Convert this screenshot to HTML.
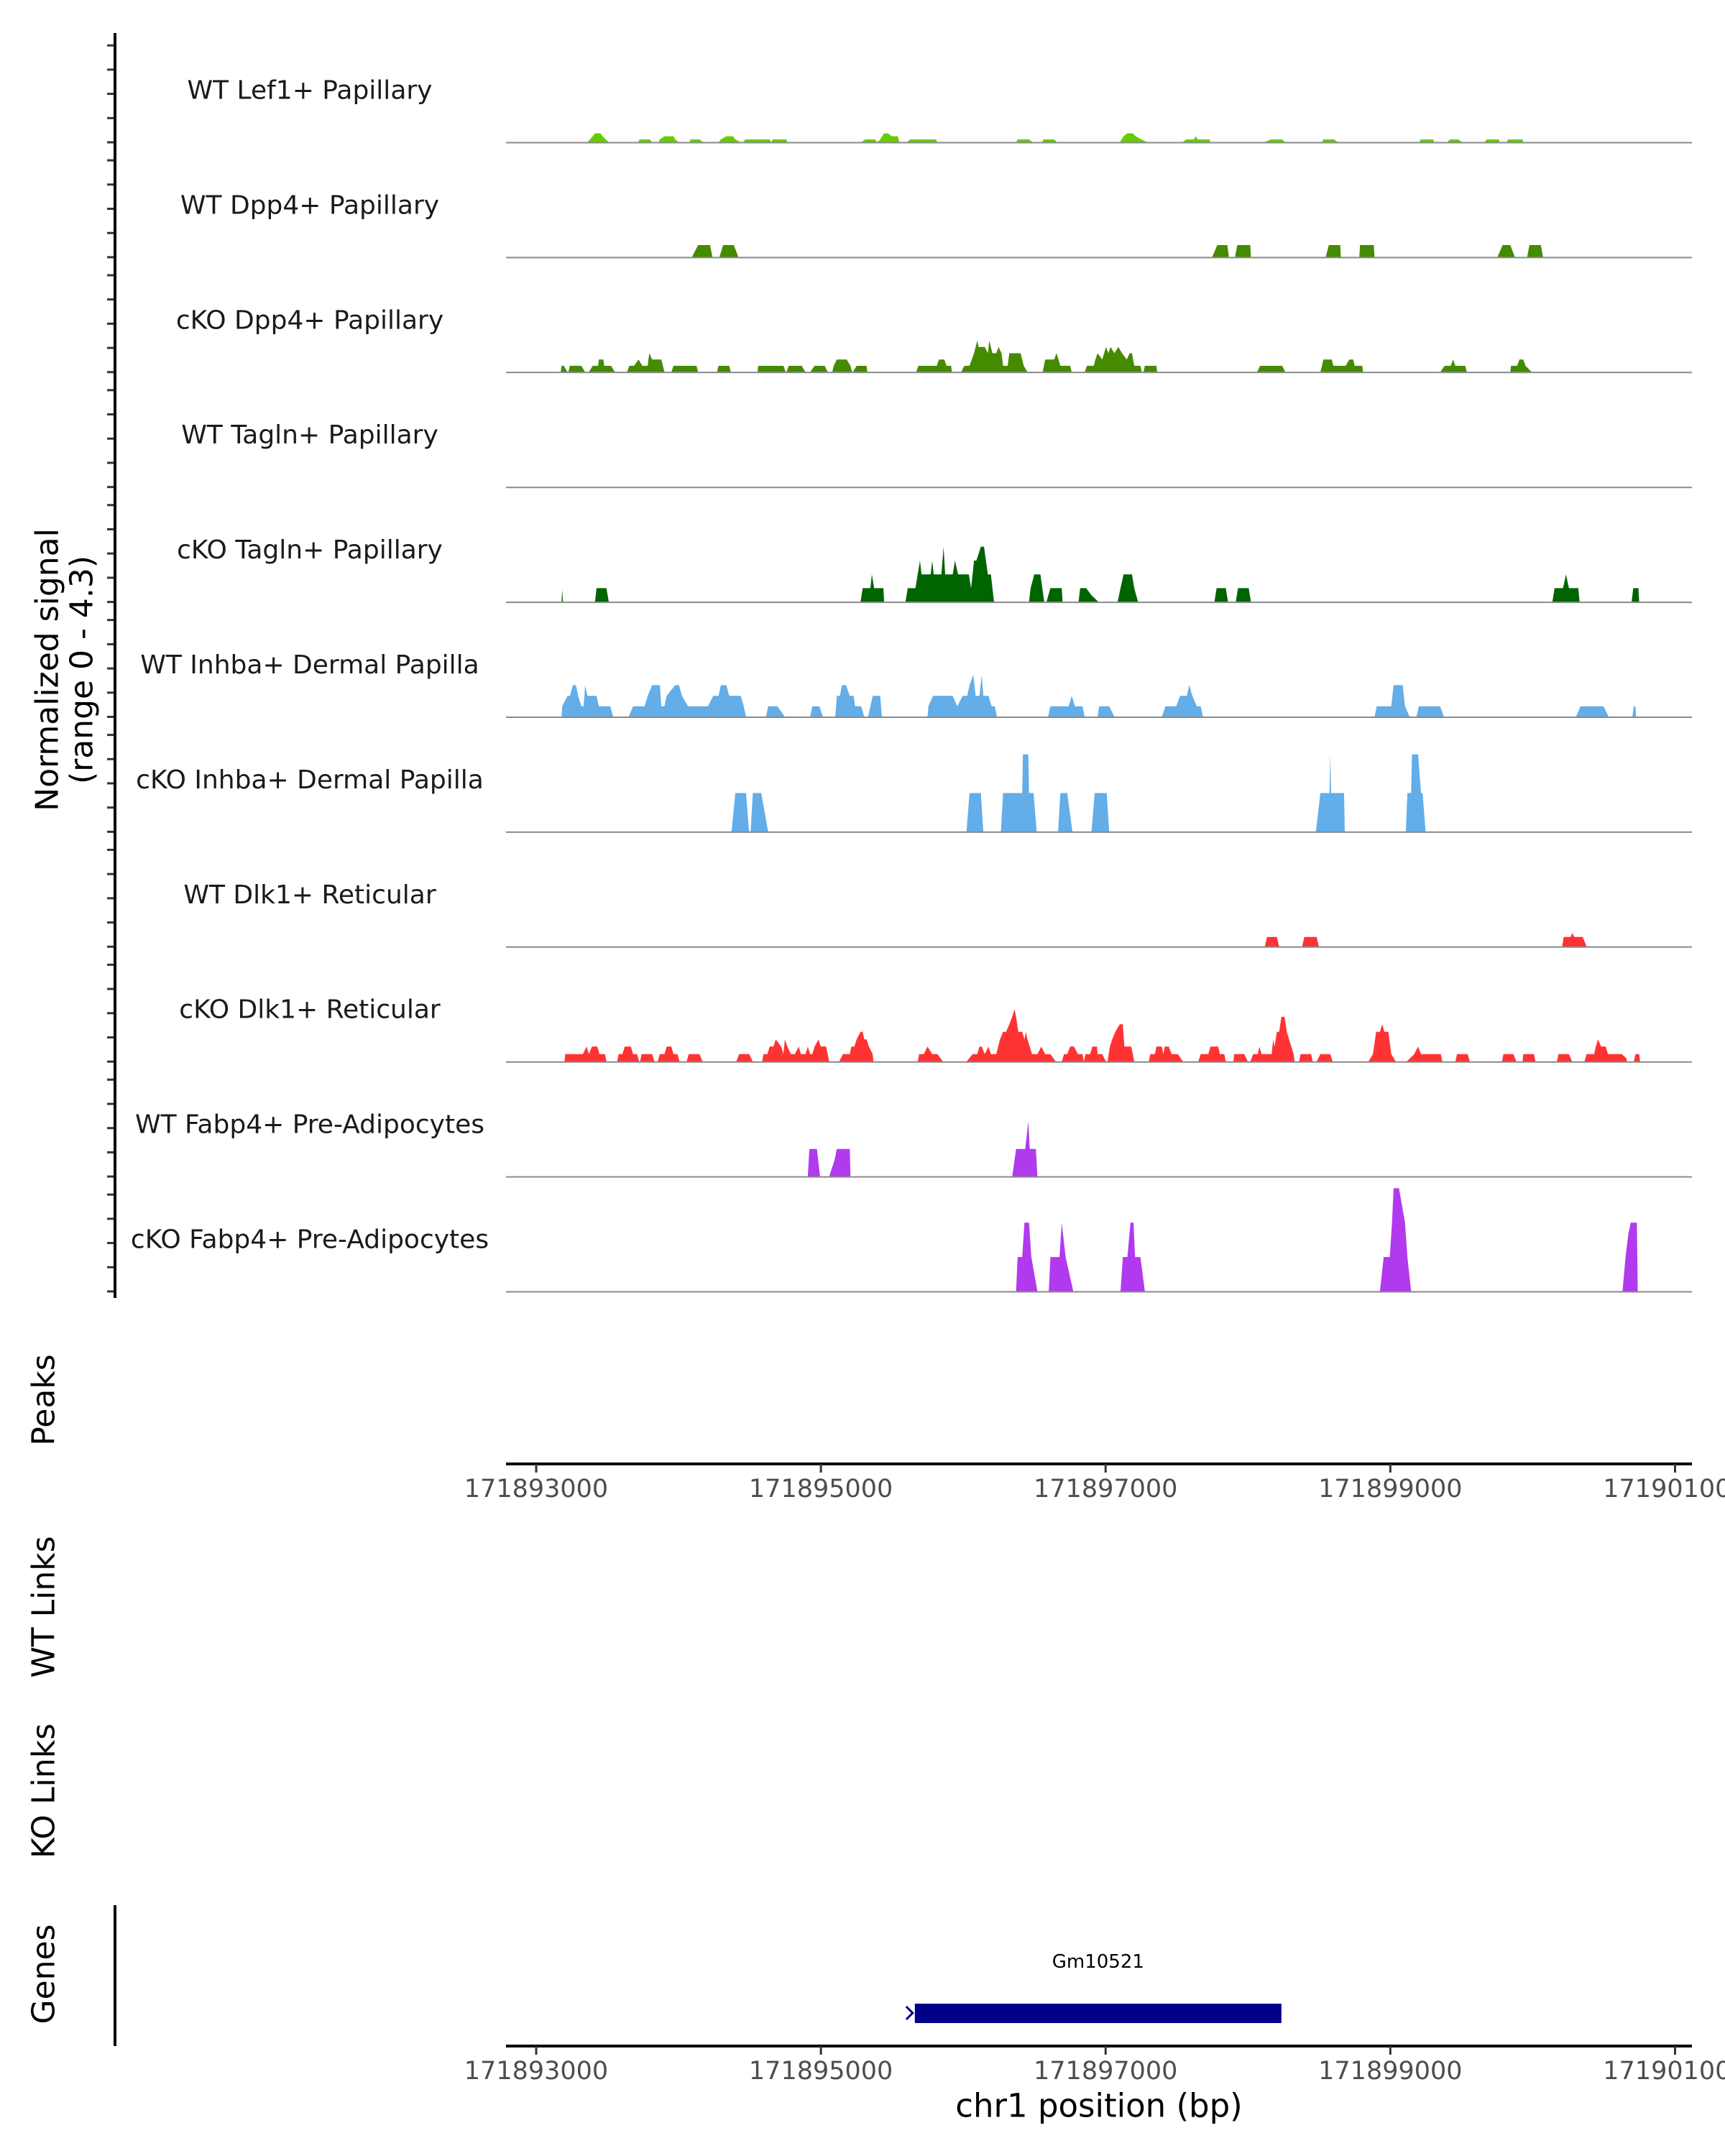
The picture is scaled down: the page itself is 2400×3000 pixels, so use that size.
<!DOCTYPE html>
<html><head><meta charset="utf-8"><style>
html,body{margin:0;padding:0;background:#fff;}
svg{display:block;font-family:"DejaVu Sans","Liberation Sans",sans-serif;}
</style></head><body>
<svg id="chart" width="2400" height="3000" viewBox="0 0 2400 3000" xmlns="http://www.w3.org/2000/svg">
<g id="tracks"></g>
<g id="axes"></g>
</svg>
<script>
// Region: genomic positions are stored as bp offsets from ORIGIN
const ORIGIN = 171890000;
const xTickValues = [171893000, 171895000, 171897000, 171899000, 171901000];
const xTickLabels = ["171893000", "171895000", "171897000", "171899000", "171901000"];
const trackNames = ["WT Lef1+ Papillary","WT Dpp4+ Papillary","cKO Dpp4+ Papillary","WT Tagln+ Papillary","cKO Tagln+ Papillary","WT Inhba+ Dermal Papilla","cKO Inhba+ Dermal Papilla","WT Dlk1+ Reticular","cKO Dlk1+ Reticular","WT Fabp4+ Pre-Adipocytes","cKO Fabp4+ Pre-Adipocytes"];
const trackColors = ["#66cc00","#458b00","#458b00","#006400","#006400","#63ade9","#63ade9","#ff3333","#ff3333","#b23aee","#b23aee"];
const yTickValues = [0,1,2,3,4];
const geneName = "Gm10521";
const geneStart = 171895660;
const geneEnd = 171898235;

const t1_pos=[3360,3397,3413,3451,3467,3510, 3713,3729,3799,3815, 3858,3869,3901,3965,3976,4003, 4078,4083,4147,4174, 4281,4297,4335,4383,4399,4437, 4453,4469,4640,4651, 4651,4662,4758,4764, 5283,5310,5380,5396, 5396,5417,5444,5471,5498,5540,5551, 5605,5626,5808,5819, 6371,6382,6462,6489, 6553,6564,6639,6660, 7100,7126,7153,7191,7212,7250,7293, 7539,7566,7619,7635,7646,7732,7733, 8112,8161,8241,8262, 8519,8530,8605,8632, 9205,9211,9302,9307, 9398,9420,9479,9505, 9661,9677,9763,9768, 9816,9827,9929,9934];
const t1_val=[0,0.25,0.37,0.37,0.25,0, 0,0.12,0.12,0, 0,0.12,0.25,0.25,0.12,0, 0,0.12,0.12,0, 0,0.12,0.25,0.25,0.12,0, 0,0.12,0.12,0, 0,0.12,0.12,0, 0,0.12,0.12,0, 0,0.12,0.37,0.37,0.25,0.25,0, 0,0.12,0.12,0, 0,0.12,0.12,0, 0,0.12,0.12,0, 0,0.25,0.37,0.37,0.25,0.12,0, 0,0.12,0.12,0.25,0.12,0.12,0, 0,0.12,0.12,0, 0,0.12,0.12,0, 0,0.12,0.12,0, 0,0.12,0.12,0, 0,0.12,0.12,0, 0,0.12,0.12,0];

const t2_pos=[4094,4137,4222,4238, 4287,4313,4388,4421, 7748,7785,7855,7866, 7909,7925,8016,8021, 8546,8568,8648,8653, 8782,8787,8884,8889, 9752,9789,9843,9875, 9961,9977,10057,10073];
const t2_val=[0,0.5,0.5,0, 0,0.5,0.5,0, 0,0.5,0.5,0, 0,0.5,0.5,0, 0,0.5,0.5,0, 0,0.5,0.5,0, 0,0.5,0.5,0, 0,0.5,0.5,0];

const t3_pos=[3172,3178,3194,3220, 3226,3237,3317,3344, 3370,3397,3435,3440,3472,3478,3526,3553, 3638,3654,3687,3719,3746,3783,3794,3815,3879,3901, 3949,3965,4126,4137, 4271,4281,4356,4367, 4555,4560,4737,4753, 4758,4774,4865,4892, 4924,4956,5026,5048, 5080,5090,5112,5181,5208,5219, 5224,5251,5321,5326, 5669,5685,5814,5830,5867,5883,5915,5921, 5985,6007,6044,6076,6098,6108,6151,6173,6183,6205,6232,6248,6269,6280,6312,6323,6403,6425,6451, 6558,6575,6639,6655,6682,6751,6762, 6853,6869,6917,6928,6944,6976,7003,7019,7035,7062,7089,7116,7148,7169,7185,7201,7244,7255, 7266,7276,7357,7362, 8064,8085,8241,8262, 8509,8530,8589,8600,8686,8712,8739,8750,8803,8809, 9350,9382,9425,9441,9457,9527,9537, 9843,9848,9891,9907,9934,9950,9993];
const t3_val=[0,0.26,0.26,0, 0,0.26,0.26,0, 0,0.26,0.26,0.52,0.52,0.26,0.26,0, 0,0.26,0.26,0.52,0.26,0.26,0.78,0.52,0.52,0, 0,0.26,0.26,0, 0,0.26,0.26,0, 0,0.26,0.26,0, 0,0.26,0.26,0, 0,0.26,0.26,0, 0,0.26,0.52,0.52,0.26,0, 0,0.26,0.26,0, 0,0.26,0.26,0.52,0.52,0.26,0.26,0, 0,0.26,0.26,0.78,1.3,1.04,1.04,0.78,1.3,0.78,0.78,1.04,0.78,0.26,0.26,0.78,0.78,0.26,0, 0,0.52,0.52,0.78,0.26,0.26,0, 0,0.26,0.26,0.52,0.78,0.52,1.04,0.78,1.04,0.78,1.04,0.78,0.52,0.78,0.78,0.26,0.26,0, 0,0.26,0.26,0, 0,0.26,0.26,0, 0,0.52,0.52,0.26,0.26,0.52,0.52,0.26,0.26,0, 0,0.26,0.26,0.52,0.26,0.26,0, 0,0.26,0.26,0.52,0.52,0.26,0];

const t4_pos=[];
const t4_val=[];

const t5_pos=[3178,3183,3188, 3413,3424,3494,3510, 5278,5294,5348,5358,5374,5439,5444, 5594,5610,5664,5696,5707,5771,5782,5792,5846,5862,5873,5926,5942,5964,6039,6055,6076,6092,6124,6146,6173,6194,6216, 6462,6473,6499,6542,6569, 6585,6612,6692,6698, 6810,6821,6864,6901,6950, 7084,7105,7126,7185,7201,7228, 7764,7780,7844,7860, 7914,7930,8005,8021, 10138,10154,10213,10234,10255,10320,10330, 10695,10706,10743,10748];
const t5_val=[0,0.5,0, 0,0.57,0.57,0, 0,0.57,0.57,1.14,0.57,0.57,0, 0,0.57,0.57,1.71,1.14,1.14,1.71,1.14,1.14,2.28,1.14,1.14,1.71,1.14,1.14,0.57,1.71,1.71,2.28,2.28,1.14,1.14,0, 0,0.57,1.14,1.14,0, 0,0.57,0.57,0, 0,0.57,0.57,0.28,0, 0,0.57,1.14,1.14,0.57,0, 0,0.57,0.57,0, 0,0.57,0.57,0, 0,0.57,0.57,1.14,0.57,0.57,0, 0,0.57,0.57,0];

const t6_pos=[3178,3183,3220,3237,3258,3279,3295,3317,3333,3344,3360,3424,3440,3520,3542, 3649,3681,3762,3783,3815,3831,3869,3879,3901,3917,3976,4003,4024,4067,4206,4244,4281,4297,4335,4356,4388,4421,4437,4458,4474, 4614,4630,4694,4721,4747, 4924,4940,4989,5015, 5101,5112,5133,5149,5176,5203,5230,5240,5283,5305, 5331,5364,5417,5428, 5749,5755,5787,5926,5958,5996,6028,6044,6071,6087,6114,6130,6141,6178,6199,6221,6237, 6596,6612,6741,6762,6784,6837,6853, 6944,6955,7025,7062, 7394,7421,7496,7523,7571,7587,7609,7641,7668,7684, 8889,8905,8986,9007,9023,9087,9103,9136, 9184,9200,9350,9377, 10304,10336,10497,10534, 10700,10711,10722,10727];
const t6_val=[0,0.44,0.87,0.87,1.31,1.31,0.87,0.44,0.44,1.31,0.87,0.87,0.44,0.44,0, 0,0.44,0.44,0.87,1.31,1.31,1.31,0.44,0.44,0.87,1.31,1.31,0.87,0.44,0.44,0.87,0.87,1.31,1.31,0.87,0.87,0.87,0.87,0.44,0, 0,0.44,0.44,0.22,0, 0,0.44,0.44,0, 0,0.87,0.87,1.31,1.31,0.87,0.87,0.44,0.44,0, 0,0.87,0.87,0, 0,0.44,0.87,0.87,0.44,0.87,0.87,1.31,1.74,0.87,0.87,1.74,0.87,0.87,0.44,0.44,0, 0,0.44,0.44,0.87,0.44,0.44,0, 0,0.44,0.44,0, 0,0.44,0.44,0.87,0.87,1.31,0.87,0.44,0.44,0, 0,0.44,0.44,0.44,1.31,1.31,0.44,0, 0,0.44,0.44,0, 0,0.44,0.44,0, 0,0.44,0.44,0];

const t7_pos=[4372,4399,4474,4496, 4506,4522,4581,4630, 6023,6044,6124,6141, 6264,6280,6414,6419,6457,6462,6494,6516, 6666,6682,6730,6767, 6901,6923,7008,7025, 8477,8509,8573,8578,8584,8675,8680, 9109,9120,9146,9152,9195,9216,9227,9248];
const t7_val=[0,1.6,1.6,0, 0,1.6,1.6,0, 0,1.6,1.6,0, 0,1.6,1.6,3.2,3.2,1.6,1.6,0, 0,1.6,1.6,0, 0,1.6,1.6,0, 0,1.6,1.6,3.2,1.6,1.6,0, 0,1.6,1.6,3.2,3.2,1.6,1.6,0];

const t8_pos=[8118,8134,8203,8219, 8380,8396,8482,8498, 10207,10218,10266,10277,10293,10352,10379];
const t8_val=[0,0.4,0.4,0, 0,0.4,0.4,0, 0,0.4,0.4,0.56,0.4,0.4,0];

const t9_pos=[3199,3204,3328,3354,3370,3392,3429,3445,3483,3494, 3569,3579,3606,3622,3665,3681,3708,3724, 3729,3740,3815,3831, 3853,3869,3901,3917,3949,3965,3992,4008, 4056,4072,4147,4169, 4405,4426,4496,4522, 4587,4597,4624,4640,4667,4683,4721,4737,4747,4764,4790,4817,4844,4860,4892,4908,4924,4940,4956,4983,4999,5037,5048,5058, 5128,5155,5203,5214,5235,5251,5278,5294,5305,5321,5337,5364,5369, 5680,5690,5723,5749,5782,5819,5857, 6023,6066,6098,6114,6130,6151,6178,6194,6232,6258,6280,6301,6323,6344,6360,6371,6387,6414,6430,6441,6451,6467,6483,6521,6548,6575,6612,6650, 6692,6708,6730,6751,6778,6805,6837,6848, 6848,6858,6891,6907,6939,6944,6976,7003, 7014,7030,7046,7068,7100,7121,7132,7148,7180,7191,7201, 7303,7314,7346,7357,7394,7405,7416,7443,7464,7507,7544, 7651,7668,7721,7737,7791,7802,7834,7844, 7898,7903,7973,8000, 8016,8037,8069,8080,8096,8166,8177,8187,8203,8219,8235,8257,8273,8289,8321,8327, 8359,8369,8444,8455, 8482,8509,8578,8595, 8846,8878,8900,8927,8943,8959,8986,9007,9039, 9114,9168,9195,9216,9355,9366, 9457,9468,9543,9559, 9784,9795,9864,9886, 9929,9934,10009,10020, 10170,10181,10255,10277, 10363,10379,10432,10443,10459,10481,10513,10529,10625,10657,10663, 10711,10722,10748,10754];
const t9_val=[0,0.31,0.31,0.62,0.31,0.62,0.62,0.31,0.31,0, 0,0.31,0.31,0.62,0.62,0.31,0.31,0, 0,0.31,0.31,0, 0,0.31,0.31,0.62,0.62,0.31,0.31,0, 0,0.31,0.31,0, 0,0.31,0.31,0, 0,0.31,0.31,0.62,0.62,0.92,0.62,0.31,0.92,0.62,0.31,0.31,0.62,0.31,0.31,0.62,0.31,0.31,0.62,0.92,0.62,0.62,0.31,0, 0,0.31,0.31,0.62,0.62,0.92,1.23,1.23,0.92,0.92,0.62,0.31,0, 0,0.31,0.31,0.62,0.31,0.31,0, 0,0.31,0.31,0.62,0.62,0.31,0.62,0.31,0.31,0.92,1.23,1.23,1.54,1.85,2.16,1.85,1.23,1.23,0.92,1.23,0.92,0.62,0.31,0.31,0.62,0.31,0.31,0, 0,0.31,0.31,0.62,0.62,0.31,0.31,0, 0,0.31,0.31,0.62,0.62,0.31,0.31,0, 0,0.62,0.92,1.23,1.54,1.54,0.62,0.62,0.62,0.31,0, 0,0.31,0.31,0.62,0.62,0.31,0.62,0.62,0.31,0.31,0, 0,0.31,0.31,0.62,0.62,0.31,0.31,0, 0,0.31,0.31,0, 0,0.31,0.31,0.62,0.31,0.31,0.92,0.62,1.23,1.23,1.85,1.85,1.23,0.92,0.31,0, 0,0.31,0.31,0, 0,0.31,0.31,0, 0,0.31,1.23,1.23,1.54,1.23,1.23,0.31,0, 0,0.31,0.62,0.31,0.31,0, 0,0.31,0.31,0, 0,0.31,0.31,0, 0,0.31,0.31,0, 0,0.31,0.31,0, 0,0.31,0.31,0.62,0.92,0.62,0.62,0.31,0.31,0.15,0, 0,0.31,0.31,0];

const t10_pos=[4908,4919,4972,4994, 5058,5096,5112,5203,5208, 6344,6371,6414,6435,6457,6467,6510,6521];
const t10_val=[0,1.14,1.14,0, 0,0.68,1.14,1.14,0, 0,1.14,1.14,1.14,2.27,1.14,1.14,0];

const t11_pos=[6371,6382,6414,6430,6462,6478,6521, 6601,6612,6676,6692,6719,6773, 7105,7121,7153,7175,7196,7207,7244,7276, 8927,8953,8996,9012,9023,9061,9103,9120,9146, 10631,10652,10673,10689,10732,10738];
const t11_val=[0,1.42,1.42,2.84,2.84,1.42,0, 0,1.42,1.42,2.84,1.42,0, 0,1.42,1.42,2.84,2.84,1.42,1.42,0, 0,1.42,1.42,2.84,4.26,4.26,2.84,1.42,0, 0,1.42,2.4,2.84,2.84,0];

const trackPos=[t1_pos,t2_pos,t3_pos,t4_pos,t5_pos,t6_pos,t7_pos,t8_pos,t9_pos,t10_pos,t11_pos];
const trackVal=[t1_val,t2_val,t3_val,t4_val,t5_val,t6_val,t7_val,t8_val,t9_val,t10_val,t11_val];

const NS='http://www.w3.org/2000/svg';
const X0=704, X1=2354;
function xScale(bp){ return 746 + (bp-171893000)*0.19806; }
function baseY(i){ return 198 + i*159.9; }
function yScale(i,v){ return baseY(i) - v*33.7; }
function mk(tag,attrs,parent){ const e=document.createElementNS(NS,tag); for(const k in attrs) e.setAttribute(k,attrs[k]); parent.appendChild(e); return e; }

const tracks=document.getElementById('tracks');
const axes=document.getElementById('axes');

for(let i=0;i<trackNames.length;i++){
  const g=mk('g',{},tracks);
  
  
  const P=trackPos[i], V=trackVal[i];
  if(P.length){
    let d='M'+xScale(ORIGIN+P[0]).toFixed(1)+','+baseY(i).toFixed(1);
    for(let k=0;k<P.length;k++) d+=' L'+xScale(ORIGIN+P[k]).toFixed(1)+','+yScale(i,V[k]).toFixed(1);
    d+=' L'+xScale(ORIGIN+P[P.length-1]).toFixed(1)+','+baseY(i).toFixed(1)+' Z';
    const a=mk('path',{d:d,fill:trackColors[i],stroke:'none'},g);
    
    
  }
  const bl=mk('line',{x1:X0,x2:X1,y1:baseY(i)+0.5,y2:baseY(i)+0.5,stroke:'#8a8a8a','stroke-width':2},g);
  
  
  const t=mk('text',{x:431,y:baseY(i)-72,'font-size':36,'text-anchor':'middle','dominant-baseline':'central',fill:'#1a1a1a'},g);
  t.textContent=trackNames[i];
  
  
  for(const tv of yTickValues){
    const tk=mk('line',{x1:149,x2:160,y1:yScale(i,tv),y2:yScale(i,tv),stroke:'#333','stroke-width':3},g);
    
    
  }
}
const yl=mk('line',{x1:160,x2:160,y1:46,y2:1806,stroke:'#000','stroke-width':4},axes);



function rotText(txt,x,y,name){
  const t=mk('text',{x:x,y:y,'font-size':44,'text-anchor':'middle','dominant-baseline':'central',fill:'#000',transform:'rotate(-90 '+x+' '+y+')'},axes);
  t.textContent=txt;
  
  
}
rotText('Normalized signal',66,932,'y-axis-title');
rotText('(range 0 - 4.3)',114,932,'y-axis-subtitle');
rotText('Peaks',61,1948,'peaks-title');
rotText('WT Links',61,2236,'wt-links-title');
rotText('KO Links',61,2492,'ko-links-title');
rotText('Genes',61,2747,'genes-title');

function xAxis(y,name){
  const l=mk('line',{x1:X0,x2:X1,y1:y,y2:y,stroke:'#000','stroke-width':4},axes);
  
  
  for(let k=0;k<xTickValues.length;k++){
    const x=xScale(xTickValues[k]);
    const tk=mk('line',{x1:x,x2:x,y1:y,y2:y+12,stroke:'#333','stroke-width':3},axes);
    
    
    const t=mk('text',{x:x,y:y+35,'font-size':35,'text-anchor':'middle','dominant-baseline':'central',fill:'#4d4d4d'},axes);
    t.textContent=xTickLabels[k];
    
    
  }
}
xAxis(2037,'peaks-x-axis');
xAxis(2847,'genes-x-axis');

const gl=mk('line',{x1:160,x2:160,y1:2651,y2:2847,stroke:'#000','stroke-width':4},axes);



const gx0=xScale(geneStart), gx1=xScale(geneEnd);
const gr=mk('rect',{x:gx0,y:2788,width:gx1-gx0,height:27,fill:'#00008b'},axes);


const ga=mk('path',{d:'M'+(gx0-12)+',2792 L'+(gx0-3)+',2801 L'+(gx0-12)+',2810',stroke:'#00008b','stroke-width':3,fill:'none'},axes);


const gt=mk('text',{x:(gx0+gx1)/2,y:2730,'font-size':26,'text-anchor':'middle','dominant-baseline':'central',fill:'#000'},axes);
gt.textContent=geneName;



const xt=mk('text',{x:1529,y:2930,'font-size':45,'text-anchor':'middle','dominant-baseline':'central',fill:'#000'},axes);
xt.textContent='chr1 position (bp)';


</script>
</body></html>
